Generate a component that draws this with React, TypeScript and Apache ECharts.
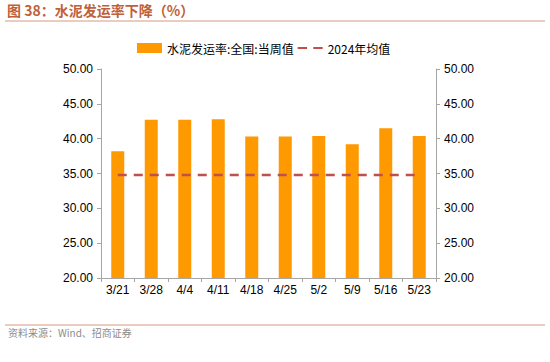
import React, { useEffect, useRef } from "react";
import * as echarts from "echarts";

const categories = ["3/21", "3/28", "4/4", "4/11", "4/18", "4/25", "5/2", "5/9", "5/16", "5/23"];
const weeklyValues = [38.2, 42.7, 42.7, 42.8, 40.3, 40.3, 40.4, 39.2, 41.5, 40.4];
const avg2024 = 34.8;
const avgValues = categories.map(() => avg2024);
const seriesNames = ["水泥发运率:全国:当周值", "2024年均值"];
const titleText = "图 38：水泥发运率下降（%）";
const sourceText = "资料来源：Wind、招商证券";

export default function App() {
  const ref = useRef<HTMLDivElement>(null);
  useEffect(() => {
    if (!ref.current) return;
    const chart = echarts.init(ref.current, null, { renderer: "svg" });
    const axisLabel = {
      color: "#000",
      fontSize: 12,
      fontFamily: "Liberation Sans, Arial, sans-serif",
      formatter: (v: number) => v.toFixed(2),
    };
    const valueAxisCommon = {
      type: "value",
      min: 20,
      max: 50,
      interval: 5,
      splitLine: { show: false },
      axisLine: { show: true, lineStyle: { color: "#a6a6a6" } },
      axisTick: { show: true, length: 4, lineStyle: { color: "#a6a6a6" } },
      axisLabel,
    };
    chart.setOption({
      animation: false,
      backgroundColor: "#fff",
      textStyle: { fontFamily: "Liberation Sans, Arial, sans-serif" },
      graphic: [
        {
          type: "text",
          left: 7,
          top: 3,
          style: {
            text: titleText,
            fill: "#c0603a",
            font: "bold 14px 'Noto Sans CJK SC', sans-serif",
          },
        },
        {
          type: "line",
          shape: { x1: 5, y1: 21, x2: 545, y2: 21 },
          style: { stroke: "#d49a80", lineWidth: 1 },
        },
        {
          type: "line",
          shape: { x1: 5, y1: 325, x2: 545, y2: 325 },
          style: { stroke: "#d49a80", lineWidth: 1 },
        },
        {
          type: "text",
          left: 8,
          top: 327,
          style: {
            text: sourceText,
            fill: "#8c8c8c",
            font: "10px 'Noto Sans CJK SC', sans-serif",
          },
        },
      ],
      legend: {
        top: 37,
        left: 132,
        itemGap: 4,
        itemWidth: 25,
        itemHeight: 10,
        textStyle: { color: "#000", fontSize: 12, fontFamily: "'Noto Sans CJK SC', sans-serif" },
        data: [
          { name: seriesNames[0], icon: "rect" },
          {
            name: seriesNames[1],
            icon: "path://M0,4 L9,4 L9,6 L0,6 Z M15,4 L24,4 L24,6 L15,6 Z",
            itemStyle: { color: "#c0504d", borderWidth: 0 },
          },
        ],
      },
      grid: { left: 101, right: 114, top: 69, bottom: 84 },
      xAxis: {
        type: "category",
        data: categories,
        boundaryGap: true,
        axisLine: { show: true, lineStyle: { color: "#a6a6a6" } },
        axisTick: { show: true, length: 4, alignWithLabel: false, lineStyle: { color: "#a6a6a6" } },
        axisLabel: { color: "#000", fontSize: 12, margin: 6, interval: 0 },
      },
      yAxis: [
        { ...valueAxisCommon, position: "left" },
        { ...valueAxisCommon, position: "right" },
      ],
      series: [
        {
          name: seriesNames[0],
          type: "bar",
          data: weeklyValues,
          barWidth: 13,
          itemStyle: { color: "#ff9900" },
        },
        {
          name: seriesNames[1],
          type: "line",
          data: avgValues,
          symbol: "none",
          lineStyle: { color: "#c0504d", width: 2.5, type: [9, 7] },
          itemStyle: { color: "#c0504d" },
        },
      ],
    });
    return () => chart.dispose();
  }, []);
  return <div ref={ref} style={{ width: 550, height: 362, position: "absolute", left: 0, top: 0 }} />;
}
